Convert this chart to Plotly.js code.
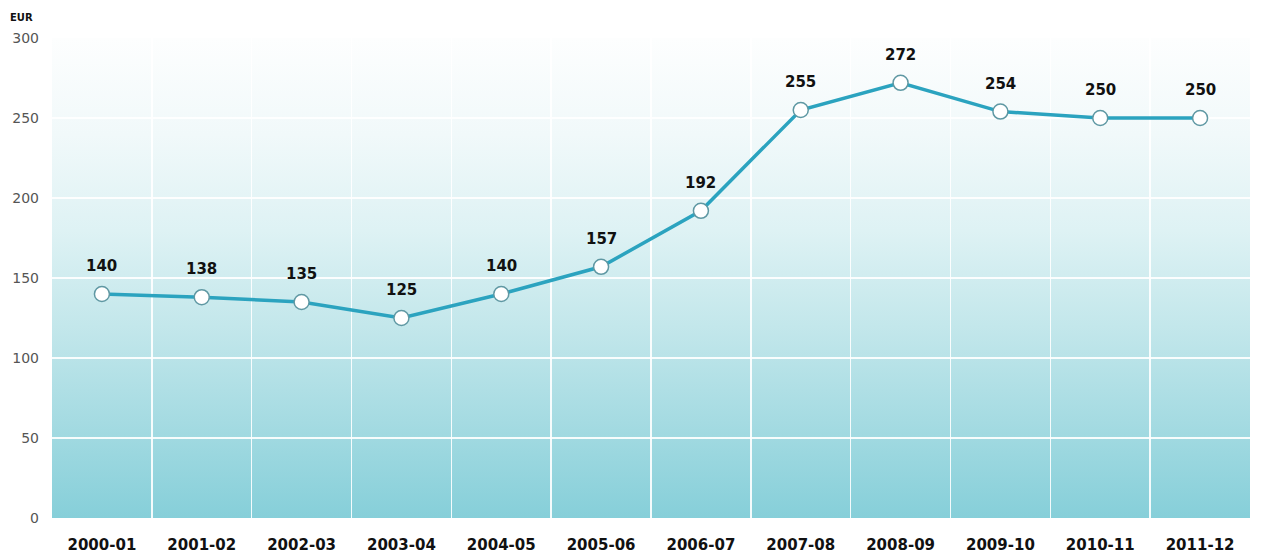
<!DOCTYPE html>
<html>
<head>
<meta charset="utf-8">
<script src="https://cdn.plot.ly/plotly-3.0.1.min.js"></script>
<style>
html,body{margin:0;padding:0;background:#fff;}
#wrap{position:relative;width:1266px;height:556px;}
#bg{position:absolute;left:52px;top:38px;width:1198px;height:480px;
 background:linear-gradient(to bottom,#fdfefe 0%,#f1f9fa 20%,#def2f4 40%,#c3e7eb 60%,#a5dbe2 80%,#86cfd9 100%);}
#chart{position:absolute;left:0;top:0;width:1266px;height:556px;}
</style>
</head>
<body>
<div id="wrap"><div id="bg"></div><div id="chart"></div></div>
<script>
const categories = ["2000-01","2001-02","2002-03","2003-04","2004-05","2005-06","2006-07","2007-08","2008-09","2009-10","2010-11","2011-12"];
const values = [140,138,135,125,140,157,192,255,272,254,250,250];
const yTicks = [0,50,100,150,200,250,300];

const trace = {
  x: categories, y: values, type: 'scatter', mode: 'lines+markers',
  line: {color: '#2ba3bf', width: 3.5},
  marker: {size: 15, color: '#ffffff', line: {color: '#5f98a3', width: 1.5}},
  cliponaxis: false, hoverinfo: 'skip'
};

const valueLabels = categories.map((c, i) => ({
  x: c, y: values[i], text: String(values[i]), showarrow: false,
  yshift: 28, font: {family: 'DejaVu Sans', size: 15, color: '#111', weight: 'bold'}
}));

const layout = {
  width: 1266, height: 556,
  margin: {l: 52, r: 16, t: 38, b: 38},
  paper_bgcolor: 'rgba(0,0,0,0)', plot_bgcolor: 'rgba(0,0,0,0)',
  showlegend: false,
  xaxis: {type: 'category', range: [-0.5, 11.5], tickson: 'boundaries',
    showgrid: true, gridcolor: 'rgba(255,255,255,0.9)', gridwidth: 1.5,
    zeroline: false, showline: false, ticks: '', ticklabelstandoff: 16,
    tickfont: {family: 'DejaVu Sans', size: 15, color: '#111', weight: 'bold'}},
  yaxis: {range: [0, 300], tickvals: yTicks, showgrid: true,
    gridcolor: 'rgba(255,255,255,0.9)', gridwidth: 1.5, zeroline: false,
    showline: false, ticks: '', ticklabelstandoff: 12,
    tickfont: {family: 'DejaVu Sans', size: 14, color: '#555'}},
  annotations: [{text: 'EUR', xref: 'paper', yref: 'paper', x: 0, y: 1, xshift: -44, yshift: 21,
    xanchor: 'left', yanchor: 'middle', showarrow: false,
    font: {family: 'DejaVu Sans', size: 10, color: '#111', weight: 'bold'}}].concat(valueLabels)
};

Plotly.newPlot('chart', [trace], layout, {displayModeBar: false, staticPlot: true});
</script>
</body>
</html>
